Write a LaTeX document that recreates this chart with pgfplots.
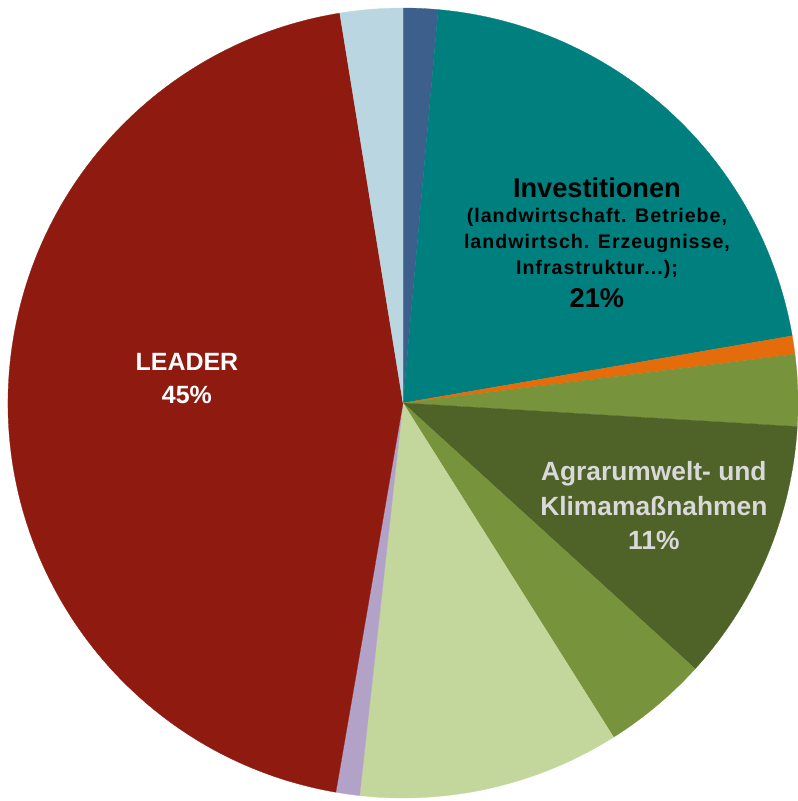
\documentclass[border=0pt]{standalone}
\usepackage{pgfplots}
\pgfplotsset{compat=1.18}
\usepackage{pgfplotstable}
\usepackage{fontspec}
\setmainfont{Liberation Sans}
\newfontfamily\spaced[LetterSpace=5]{Liberation Sans}

\definecolor{cDarkBlue}{HTML}{3C5F8C}
\definecolor{cTeal}{HTML}{007F7F}
\definecolor{cOrange}{HTML}{E46C0A}
\definecolor{cOlive}{HTML}{77933C}
\definecolor{cDarkOlive}{HTML}{4F6228}
\definecolor{cMidGreen}{HTML}{77933C}
\definecolor{cLightGreen}{HTML}{C3D69B}
\definecolor{cLavender}{HTML}{B3A2C7}
\definecolor{cRed}{HTML}{8E1A10}
\definecolor{cLightBlue}{HTML}{B9D6E1}
\definecolor{cLabelGray}{HTML}{D9D9D9}

\pgfplotstableread{
slice value col
DarkBlue 1.42 cDarkBlue
Investitionen 20.86 cTeal
Orange 0.75 cOrange
Olive 2.92 cOlive
Agrarumwelt 10.80 cDarkOlive
MidGreen 4.30 cMidGreen
LightGreen 10.70 cLightGreen
Lavender 0.97 cLavender
LEADER 44.72 cRed
LightBlue 2.56 cLightBlue
}\piedata

\begin{document}
\begin{tikzpicture}
\begin{axis}[
  scale only axis,
  width=10cm, height=10.0376cm,
  xmin=-1.0203, xmax=1.0, ymin=-1.0076, ymax=1.0203,
  hide axis, clip=false,
]
\pgfplotsextra{
  \pgfplotstablegetrowsof{\piedata}
  \pgfmathtruncatemacro{\N}{\pgfplotsretval-1}
  \xdef\cum{0}
  \foreach \i in {0,...,\N}{
    \pgfplotstablegetelem{\i}{value}\of{\piedata}\let\v=\pgfplotsretval
    \pgfplotstablegetelem{\i}{col}\of{\piedata}\let\c=\pgfplotsretval
    \pgfmathsetmacro{\sa}{90-3.6*\cum}
    \pgfmathsetmacro{\ea}{90-3.6*(\cum+\v)}
    \fill[fill=\c, draw=\c, line width=0.1pt] (axis cs:0,0) -- (axis cs:{cos(\sa)},{sin(\sa)}) arc[start angle=\sa, end angle=\ea, radius=1] -- cycle;
    \pgfmathsetmacro{\newcum}{\cum+\v}
    \xdef\cum{\newcum}
  }
}
\coordinate (bbSW) at (rel axis cs:0,0);
\coordinate (bbNE) at (rel axis cs:1,1);
% labels
\node[font=\bfseries\fontsize{9.7}{11}\selectfont, text=black] at (axis cs:0.491,0.544) {Investitionen};
\node[font=\spaced\bfseries\fontsize{7}{9}\selectfont, text=black] at (axis cs:0.491,0.471) {(landwirtschaft. Betriebe,};
\node[font=\spaced\bfseries\fontsize{7}{9}\selectfont, text=black] at (axis cs:0.491,0.405) {landwirtsch. Erzeugnisse,};
\node[font=\spaced\bfseries\fontsize{7}{9}\selectfont, text=black] at (axis cs:0.491,0.337) {Infrastruktur...);};
\node[font=\bfseries\fontsize{9.7}{11}\selectfont, text=black] at (axis cs:0.491,0.266) {21\%};
\node[font=\bfseries\fontsize{9.4}{11}\selectfont, text=cLabelGray] at (axis cs:0.635,-0.180) {Agrarumwelt- und};
\node[font=\bfseries\fontsize{9.4}{11}\selectfont, text=cLabelGray] at (axis cs:0.635,-0.261) {Klimamaßnahmen};
\node[font=\bfseries\fontsize{9.4}{11}\selectfont, text=cLabelGray] at (axis cs:0.635,-0.347) {11\%};
\node[font=\bfseries\fontsize{8.9}{11}\selectfont, text=white] at (axis cs:-0.547,0.104) {LEADER};
\node[font=\bfseries\fontsize{8.9}{11}\selectfont, text=white] at (axis cs:-0.547,0.020) {45\%};
\end{axis}
\pgfresetboundingbox
\path[use as bounding box] (bbSW) rectangle (bbNE);
\end{tikzpicture}
\end{document}
